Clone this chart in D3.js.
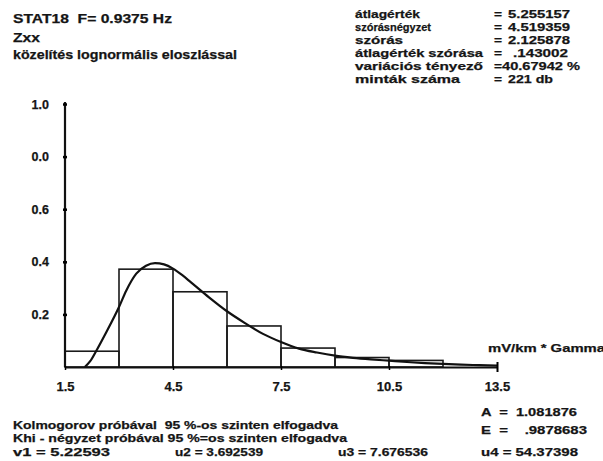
<!DOCTYPE html>
<html>
<head>
<meta charset="utf-8">
<script src="https://cdn.jsdelivr.net/npm/d3@7"></script>
<style>
  html, body { margin: 0; padding: 0; background: #fff; }
  svg text { font-family: "Liberation Sans", Arial, sans-serif; font-weight: bold; fill: #151515; white-space: pre; stroke: #151515; stroke-width: 0.25; }
</style>
</head>
<body>
<div id="chart"></div>
<script>
// histogram bins (mV/km * Gamma), relative frequency
var binEdges = [1.5, 3.0, 4.5, 6.0, 7.5, 9.0, 10.5, 12.0];
var binValues = [0.06, 0.372, 0.286, 0.156, 0.072, 0.036, 0.025];

// fitted lognormal curve
var curveX = [2.05, 2.2, 2.375, 2.65, 3.0, 3.2, 3.48, 3.75, 4.0, 4.25, 4.5, 4.75, 5.0, 5.5, 6.0, 6.5, 7.0, 7.5, 8.0, 8.5, 9.0, 9.5, 10.0, 10.5, 11.0, 11.5, 12.0, 12.5, 13.0, 13.5];
var curveY = [0, 0.022, 0.063, 0.133, 0.228, 0.29, 0.355, 0.385, 0.395, 0.39, 0.374, 0.35, 0.322, 0.265, 0.212, 0.167, 0.126, 0.095, 0.07, 0.055, 0.043, 0.035, 0.029, 0.024, 0.019, 0.015, 0.012, 0.009, 0.007, 0.005];

var xTicks = [1.5, 4.5, 7.5, 10.5, 13.5];
var xTickLabels = ["1.5", "4.5", "7.5", "10.5", "13.5"];
var yTicks = [0.2, 0.4, 0.6, 0.8, 1.0];
var yTickLabels = ["0.2", "0.4", "0.6", "0.0", "1.0"];

var titleLines = ["STAT18  F= 0.9375 Hz", "Zxx", "közelítés lognormális eloszlással"];
var statNames = ["átlagérték", "szórásnégyzet", "szórás", "átlagérték szórása", "variációs tényező", "minták száma"];
var statValues = ["5.255157", "4.519359", "2.125878", ".143002", "40.67942 %", "221 db"];
var testLines = ["Kolmogorov próbával  95 %-os szinten elfogadva", "Khi - négyzet próbával 95 %=os szinten elfogadva"];
var momentsLeft = ["v1 = 5.22593", "u2 = 3.692539", "u3 = 7.676536"];
var momentsRight = ["A  =  1.081876", "E  =    .9878683", "u4 = 54.37398"];
var unitLabel = "mV/km * Gamma";

var W = 603, H = 461;
var svg = d3.select("#chart").append("svg").attr("width", W).attr("height", H);

var x = d3.scaleLinear().domain([1.5, 13.5]).range([65, 497]);
var y = d3.scaleLinear().domain([0, 1]).range([367, 104]);

function txt(s, px, py, w, size) {
    var t = svg.append("text").attr("x", px).attr("y", py).attr("font-size", size)
        .attr("xml:space", "preserve").text(s);
    if (w) t.attr("textLength", w).attr("lengthAdjust", "spacingAndGlyphs");
    return t;
}

// bars
var bins = binValues.map(function (v, i) { return {x0: binEdges[i], x1: binEdges[i + 1], v: v}; });
svg.append("g").selectAll("rect").data(bins).enter().append("rect")
    .attr("x", function (d) { return x(d.x0); })
    .attr("y", function (d) { return y(d.v); })
    .attr("width", function (d) { return x(d.x1) - x(d.x0); })
    .attr("height", function (d) { return y(0) - y(d.v); })
    .attr("fill", "none").attr("stroke", "#1a1a1a").attr("stroke-width", 1.6);

// curve
var pts = curveX.map(function (v, i) { return [v, curveY[i]]; });
svg.append("path").datum(pts)
    .attr("d", d3.line().x(function (d) { return x(d[0]); }).y(function (d) { return y(d[1]); }).curve(d3.curveMonotoneX))
    .attr("fill", "none").attr("stroke", "#111").attr("stroke-width", 2.2);

// axes
var yAxis = svg.append("g").attr("transform", "translate(" + x(1.5) + ",0)")
    .call(d3.axisLeft(y).tickValues(yTicks).tickSize(2).tickSizeOuter(0).tickPadding(14)
        .tickFormat(function (d, i) { return yTickLabels[i]; }));
yAxis.select(".domain").attr("d", "M0," + (y(1) - 2) + "V" + y(0)).attr("stroke-width", 2.2).attr("stroke", "#111");
yAxis.selectAll(".tick line").attr("x1", -2).attr("x2", 2).attr("stroke-width", 2.5);
yAxis.selectAll(".tick text").attr("font-size", 12.5).attr("font-family", null).style("font-weight", "bold");

var xAxis = svg.append("g").attr("transform", "translate(0," + y(0) + ")")
    .call(d3.axisBottom(x).tickValues(xTicks).tickSize(3).tickSizeOuter(0).tickPadding(12)
        .tickFormat(function (d, i) { return xTickLabels[i]; }));
xAxis.select(".domain").attr("stroke-width", 2.2).attr("stroke", "#111");
xAxis.selectAll(".tick line").attr("y1", -1).attr("stroke-width", 1.5);
xAxis.selectAll(".tick").filter(function (d) { return d === 13.5; }).select("line").attr("y1", -5).attr("y2", 5).attr("stroke-width", 2);
xAxis.selectAll(".tick text").attr("font-size", 13).attr("font-family", null).style("font-weight", "bold");

txt(unitLabel, 488, 352, 117, 11.5);

// title block
txt(titleLines[0], 13, 23, 159, 13);
txt(titleLines[1], 13, 42, 27, 12);
txt(titleLines[2], 13, 59, 224, 12);

// statistics
var nameW = [65, 76, 48, 128, 128, 105];
var valX = [508, 508, 508, 513, 502, 508];
var valW = [62, 62, 62, 55, 78, 45];
statNames.forEach(function (s, i) {
    var by = 18 + 13 * i;
    txt(s, 355, by, nameW[i], 11.5);
    txt("=", 494, by, 8, 11.5);
    txt(statValues[i], valX[i], by, valW[i], 11.5);
});

// test results and moments
txt(testLines[0], 13, 429, 325, 11.5);
txt(testLines[1], 13, 442, 334, 11.5);
var mlX = [13, 175, 338], mlW = [97, 88, 90];
momentsLeft.forEach(function (s, i) { txt(s, mlX[i], 456, mlW[i], 11.5); });
var mrY = [416, 434, 456], mrW = [96, 106, 97];
momentsRight.forEach(function (s, i) { txt(s, 481, mrY[i], mrW[i], 11.5); });
</script>
</body>
</html>
